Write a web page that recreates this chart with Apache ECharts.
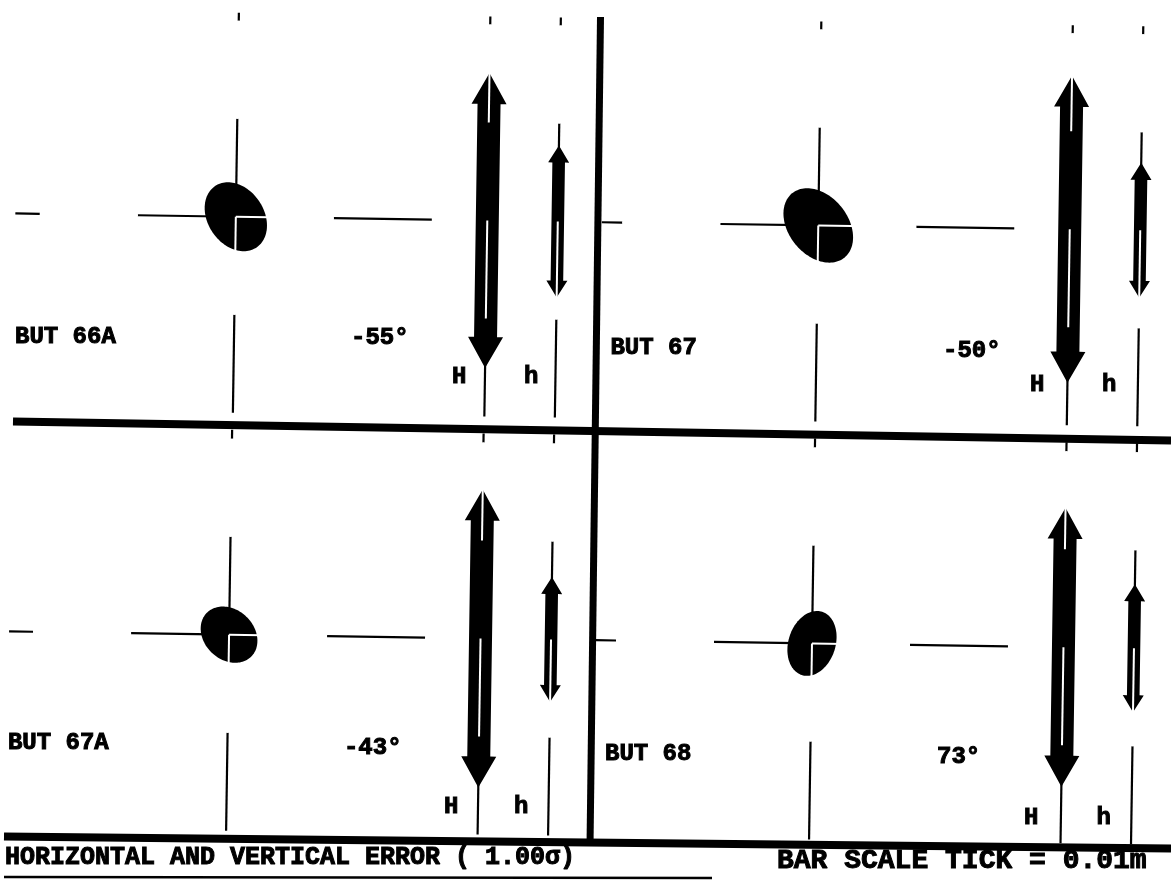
<!DOCTYPE html>
<html>
<head>
<meta charset="utf-8">
<script src="https://cdn.jsdelivr.net/npm/echarts@6/dist/echarts.min.js"></script>
<style>
html,body{margin:0;padding:0;background:#ffffff;}
#chart{width:1171px;height:882px;}
</style>
</head>
<body>
<div id="chart"></div>
<script>
// ================= DATA =================
const stations      = ['BUT 66A', 'BUT 67', 'BUT 67A', 'BUT 68'];
const ellipseAngles = [-55, -50, -43, 73];            // degrees, orientation of the error ellipse
const semiMajor     = [3.78, 4.23, 3.18, 3.39];       // mm
const semiMinor     = [2.86, 3.02, 2.55, 2.40];       // mm
const horizErr      = [15.05, 15.66, 15.20, 14.23];   // H  (mm, 1 sigma)
const vertErr       = [7.76, 6.89, 6.38, 6.53];       // h  (mm, 1 sigma)
const barScaleTick  = 10;                             // mm  (0.01 m)
const sigmaLevel    = '1.00';
const titleText     = 'HORIZONTAL AND VERTICAL ERROR ( ' + sigmaLevel + 'σ)';
const scaleText     = 'BAR SCALE TICK = 0.01m';
const arrowLabels   = ['H', 'h'];

// ================= LAYOUT (positions / sizes / styles) =================
const PX_PER_MM = 9.8;
const ROT = 0.015, ROT_C = [585, 441];          // slight tilt of the scanned plot
const centers = [[232.5, 222], [815, 222], [232, 640], [815, 640]];
const COL_H = 251.5, COL_h = 322;               // x offsets of H and h columns
const clips = [                                  // left, top, right, bottom of each panel
  [12, 18, 591.5, 427], [598.5, 18, 1171, 427],
  [12, 435, 591.5, 839], [598.5, 435, 1171, 839]
];
// text offsets relative to panel centre (left x, middle y)
const nameOff  = [[-219, 124], [-206, 126], [-219.5, 112], [-205.3, 113.5]];
const angOff   = [[117, 119], [126.6, 124], [116.6, 111.5], [126.7, 111.5]];
const HlabOff  = [[218.5, 157], [214.1, 156], [217.5, 168.6], [214.6, 170.9]];
const hlabOff  = [[290.5, 156], [286.1, 155.5], [287.5, 168], [287, 169.8]];
const FONT = 'bold 24px "Liberation Mono"';
const H_STYLE = {hw: 17.5, sw: 11.5, hl: 31};
const h_STYLE = {hw: 10.5, sw: 6.3, hl: 17};
const PATTERN = [[-3, -2, '#000'], [-2, -1, '#fff'], [-1, 0, '#000'], [0, 1, '#fff'], [1, 2, '#000']];

const cosT = Math.cos(ROT), sinT = Math.sin(ROT);
function R(x, y) {
  const dx = x - ROT_C[0], dy = y - ROT_C[1];
  return [ROT_C[0] + dx * cosT - dy * sinT, ROT_C[1] + dx * sinT + dy * cosT];
}

function renderPanel(params, api) {
  const i = params.dataIndex;
  const cx = centers[i][0], cy = centers[i][1];
  const clip = clips[i];
  const P = (x, y) => api.coord(R(x, y));
  const children = [];

  // error ellipse
  const a = semiMajor[i] * PX_PER_MM, b = semiMinor[i] * PX_PER_MM;
  const phi = ellipseAngles[i] * Math.PI / 180;
  const ep = [];
  for (let k = 0; k < 120; k++) {
    const t = k / 120 * 2 * Math.PI;
    const ex = a * Math.cos(t) * Math.cos(phi) - b * Math.sin(t) * Math.sin(phi);
    const ey = a * Math.cos(t) * Math.sin(phi) + b * Math.sin(t) * Math.cos(phi);
    ep.push(P(cx + ex, cy - ey));
  }
  children.push({type: 'polygon', shape: {points: ep}, style: {fill: '#000'}});

  // double-headed arrows
  function arrow(x, half, st) {
    const pts = [
      [x, cy - half], [x + st.hw, cy - half + st.hl], [x + st.sw, cy - half + st.hl],
      [x + st.sw, cy + half - st.hl], [x + st.hw, cy + half - st.hl], [x, cy + half],
      [x - st.hw, cy + half - st.hl], [x - st.sw, cy + half - st.hl],
      [x - st.sw, cy - half + st.hl], [x - st.hw, cy - half + st.hl]
    ];
    return {type: 'polygon', shape: {points: pts.map(p => P(p[0], p[1]))}, style: {fill: '#000'}};
  }
  children.push(arrow(cx + COL_H, horizErr[i] * PX_PER_MM, H_STYLE));
  children.push(arrow(cx + COL_h, vertErr[i] * PX_PER_MM, h_STYLE));

  // scale bars (alternating black / white ticks)
  const T = barScaleTick * PX_PER_MM;
  const lines = [];
  [cx, cx + COL_H, cx + COL_h].forEach(x => {
    PATTERN.forEach(s => {
      let y1 = Math.max(cy + s[0] * T, clip[1]);
      let y2 = Math.min(cy + s[1] * T, clip[3]);
      if (y2 > y1) lines.push({p1: P(x, y1), p2: P(x, y2), c: s[2]});
    });
  });
  PATTERN.forEach(s => {
    let x1 = Math.max(cx + s[0] * T, clip[0]);
    let x2 = Math.min(cx + s[1] * T, clip[2]);
    if (x2 > x1) lines.push({p1: P(x1, cy), p2: P(x2, cy), c: s[2]});
  });
  lines.sort((u, v) => (u.c === '#fff') - (v.c === '#fff'));
  lines.forEach(l => children.push({
    type: 'line',
    shape: {x1: l.p1[0], y1: l.p1[1], x2: l.p2[0], y2: l.p2[1]},
    style: {stroke: l.c, lineWidth: l.c === '#fff' ? 2 : 2.2}
  }));

  // texts
  function txt(str, off) {
    const p = P(cx + off[0], cy + off[1]);
    return {type: 'text', x: p[0], y: p[1],
      style: {text: str, font: FONT, fill: '#000', stroke: '#000', lineWidth: 1,
              align: 'left', verticalAlign: 'middle'}};
  }
  children.push(txt(stations[i], nameOff[i]));
  children.push(txt(ellipseAngles[i] + '°', angOff[i]));
  children.push(txt(arrowLabels[0], HlabOff[i]));
  children.push(txt(arrowLabels[1], hlabOff[i]));

  return {type: 'group', children: children};
}

const chart = echarts.init(document.getElementById('chart'), null, {renderer: 'canvas'});
chart.setOption({
  backgroundColor: '#ffffff',
  animation: false,
  grid: {left: 0, right: 0, top: 0, bottom: 0},
  xAxis: {type: 'value', min: 0, max: 1171, show: false},
  yAxis: {type: 'value', min: 0, max: 882, inverse: true, show: false},
  series: [{
    type: 'custom',
    coordinateSystem: 'cartesian2d',
    renderItem: renderPanel,
    data: stations.map((s, i) => [i, i]),
    silent: true
  }],
  graphic: [
    {type: 'line', shape: {x1: 600.5, y1: 17, x2: 590, y2: 846}, style: {stroke: '#000', lineWidth: 7}},
    {type: 'line', shape: {x1: 13, y1: 421.5, x2: 1171, y2: 440.5}, style: {stroke: '#000', lineWidth: 8}},
    {type: 'line', shape: {x1: 4, y1: 836.5, x2: 1171, y2: 848.5}, style: {stroke: '#000', lineWidth: 8}},
    {type: 'line', shape: {x1: 4, y1: 877, x2: 712, y2: 878}, style: {stroke: '#000', lineWidth: 2.5}},
    {type: 'text', x: 5, y: 858,
     style: {text: titleText, font: 'bold 25px "Liberation Mono"', fill: '#000', stroke: '#000', lineWidth: 1,
             align: 'left', verticalAlign: 'middle'}},
    {type: 'text', x: 777, y: 861,
     style: {text: scaleText, font: 'bold 28px "Liberation Mono"', fill: '#000', stroke: '#000', lineWidth: 1,
             align: 'left', verticalAlign: 'middle'}}
  ]
});
</script>
</body>
</html>
